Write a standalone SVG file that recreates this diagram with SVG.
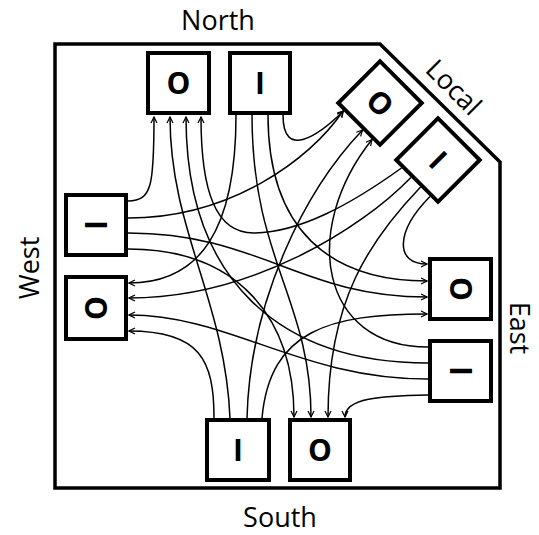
<svg xmlns="http://www.w3.org/2000/svg" width="539" height="535" viewBox="0 0 539 535">
  <defs>
    <marker id="arrow" markerUnits="userSpaceOnUse" markerWidth="8" markerHeight="8" viewBox="0 0 8 8" refX="7" refY="4" orient="auto">
      <path d="M1,1 L7,4 L1,7" fill="none" stroke="#000" stroke-width="1.2"/>
    </marker>
  </defs>
  <style>
    .frame { fill: none; stroke: #000; stroke-width: 3.5; stroke-linejoin: miter; }
    .box { fill: #fff; stroke: #000; stroke-width: 4; }
    .port { font-family: "Open Sans", "Liberation Sans", sans-serif; font-weight: bold; font-size: 30px; text-anchor: middle; fill: #000; }
    .side { font-family: "Open Sans", "Liberation Sans", sans-serif; font-size: 27px; text-anchor: middle; fill: #000; }
    .wire { fill: none; stroke: #000; stroke-width: 1.5; marker-end: url(#arrow); }
  </style>

  <rect width="539" height="535" fill="#fff"/>

  <!-- router outline with the clipped corner for the local port -->
  <path class="frame" d="M55,44 H380 L500,162 V488 H55 Z"/>

  <!-- side labels -->
  <text class="side" x="218" y="30">North</text>
  <text class="side" x="280" y="527">South</text>
  <text class="side" transform="translate(39,268) rotate(-90)">West</text>
  <text class="side" transform="translate(510,328) rotate(90)">East</text>
  <text class="side" transform="translate(447,94) rotate(45)">Local</text>

  <!-- crossbar connections: input port to output port -->
  <g id="connectors">
    <!-- West in -->
    <path class="wire" d="M128,201 C152,201 154,185 154,117"/>
    <path class="wire" d="M128,218 C230,218 310,160 343,111"/>
    <path class="wire" d="M128,233 C260,233 300,297 427,297"/>
    <path class="wire" d="M128,249 C240,249 294,320 294,417"/>
    <!-- North in -->
    <path class="wire" d="M236,115 C236,230 200,283 129,283"/>
    <path class="wire" d="M252,115 C252,260 311,300 311,417"/>
    <path class="wire" d="M268,115 C268,230 330,281 427,281"/>
    <path class="wire" d="M283,115 C283,160 318,136 343.5,111"/>
    <!-- South in -->
    <path class="wire" d="M214,418 C214,360 200,331 129,331"/>
    <path class="wire" d="M230,418 C225,300 170,230 170,117"/>
    <path class="wire" d="M247,418 C250,300 305,190 362.6,130"/>
    <path class="wire" d="M262,418 C270,330 330,314 427,314"/>
    <!-- East in -->
    <path class="wire" d="M428,347 C320,347 300,230 372,139.5"/>
    <path class="wire" d="M428,363 C280,363 186,280 186,117"/>
    <path class="wire" d="M428,379 C300,379 230,315 129,315"/>
    <path class="wire" d="M428,395 C380,396 345,398 345,417"/>
    <!-- Local in -->
    <path class="wire" d="M401.5,168 C350,205 300,232 255,233 C215,234 201,190 201,117"/>
    <path class="wire" d="M410.9,177.4 C360,230 250,298 129,298"/>
    <path class="wire" d="M420.6,187.1 C370,240 328,300 328,417"/>
    <path class="wire" d="M430,196.5 C395,232 395,264 427,264"/>
  </g>

  <!-- ports -->
  <g id="north-out">
    <rect class="box" x="148" y="53" width="61" height="60"/>
    <text class="port" x="178.5" y="94">O</text>
  </g>
  <g id="north-in">
    <rect class="box" x="230" y="53" width="60" height="60"/>
    <text class="port" x="260" y="94">I</text>
  </g>
  <g id="west-in">
    <rect class="box" x="66" y="195" width="60" height="60"/>
    <text class="port" transform="translate(96,225) rotate(-90)" y="10.7">I</text>
  </g>
  <g id="west-out">
    <rect class="box" x="66" y="277" width="60" height="62"/>
    <text class="port" transform="translate(96,308) rotate(-90)" y="10.7">O</text>
  </g>
  <g id="east-out">
    <rect class="box" x="430" y="259" width="61" height="60"/>
    <text class="port" transform="translate(460.5,289) rotate(90)" y="10.7">O</text>
  </g>
  <g id="east-in">
    <rect class="box" x="430" y="341" width="61" height="60"/>
    <text class="port" transform="translate(460.5,371) rotate(90)" y="10.7">I</text>
  </g>
  <g id="south-in">
    <rect class="box" x="207" y="420" width="62" height="60"/>
    <text class="port" x="238" y="461">I</text>
  </g>
  <g id="south-out">
    <rect class="box" x="290" y="420" width="60" height="60"/>
    <text class="port" x="320" y="461">O</text>
  </g>
  <g id="local-out" transform="translate(380,103) rotate(45)">
    <rect class="box" x="-29.5" y="-29.5" width="59" height="59"/>
    <text class="port" x="0" y="10.7">O</text>
  </g>
  <g id="local-in" transform="translate(438,160) rotate(45)">
    <rect class="box" x="-29.5" y="-29.5" width="59" height="59"/>
    <text class="port" x="0" y="10.7">I</text>
  </g>
</svg>
